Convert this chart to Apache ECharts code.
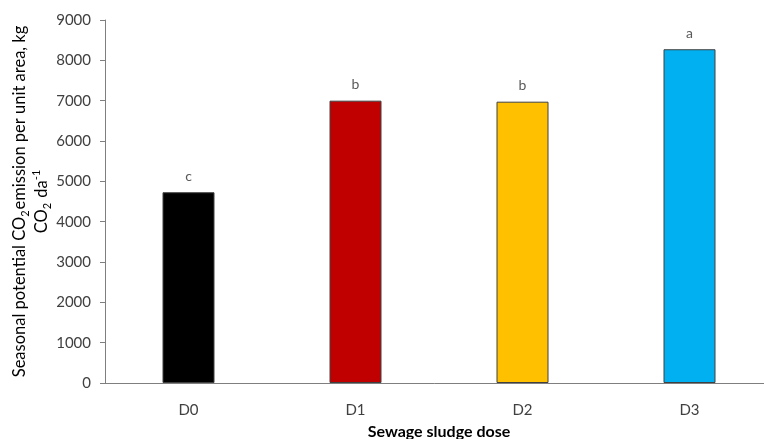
<!DOCTYPE html>
<html>
<head>
<meta charset="utf-8">
<script src="https://cdn.jsdelivr.net/npm/echarts@6/dist/echarts.min.js"></script>
<style>html,body{margin:0;padding:0;background:#fff}#c{width:764px;height:439px}</style>
</head>
<body>
<div id="c"></div>
<script>
const categories = ['D0', 'D1', 'D2', 'D3'];
const values = [4730, 7000, 6975, 8275];
const letters = ['c', 'b', 'b', 'a'];
const colors = ['#000000', '#C00000', '#FFC000', '#00B0F0'];

const chart = echarts.init(document.getElementById('c'));
const FONT = 'Lato';
chart.setOption({
  animation: false,
  grid: { left: 105, right: -9, top: 20, bottom: 56, containLabel: false, outerBoundsMode: 'none' },
  xAxis: {
    type: 'category',
    data: categories,
    name: 'Sewage sludge dose',
    nameLocation: 'middle',
    nameGap: 41,
    nameTextStyle: { fontFamily: FONT, fontSize: 16, fontWeight: 'bold', color: '#000' },
    axisLine: { lineStyle: { color: '#7f7f7f', width: 1 } },
    axisTick: { alignWithLabel: true, length: 5, lineStyle: { color: '#7f7f7f' } },
    axisLabel: { fontFamily: FONT, fontSize: 15, color: '#404040', margin: 20 }
  },
  yAxis: {
    type: 'value',
    min: 0, max: 9000, interval: 1000,
    name: '{n|Seasonal potential CO}{sub|2}{n|emission per unit area, kg}\n{n|CO}{sub|2}{n| da}{sup|-1}',
    nameLocation: 'middle',
    nameRotate: 90,
    nameGap: 74,
    nameMoveOverlap: false,
    nameTextStyle: {
      fontFamily: FONT, color: '#000', align: 'center', verticalAlign: 'middle',
      rich: {
        n: { fontFamily: FONT, fontSize: 16.5, color: '#000', lineHeight: 22 },
        sub: { fontFamily: FONT, fontSize: 11, color: '#000', lineHeight: 22, verticalAlign: 'bottom', padding: [0, 1, 0, 0] },
        sup: { fontFamily: FONT, fontSize: 11, color: '#000', lineHeight: 22, verticalAlign: 'top' }
      }
    },
    axisLine: { show: true, lineStyle: { color: '#7f7f7f', width: 1 } },
    axisTick: { show: true, length: 5, inside: false, lineStyle: { color: '#7f7f7f' } },
    splitLine: { show: false },
    axisLabel: { fontFamily: FONT, fontSize: 15, color: '#404040', margin: 14, formatter: v => String(v) }
  },
  series: [{
    type: 'bar',
    barWidth: 52,
    data: values.map((v, i) => ({
      value: v,
      itemStyle: { color: colors[i], borderColor: '#404040', borderWidth: 1 }
    })),
    label: {
      show: true, position: 'top', distance: 9,
      fontFamily: FONT, fontSize: 14, color: '#595959',
      formatter: p => letters[p.dataIndex]
    }
  }]
});
</script>
</body>
</html>
